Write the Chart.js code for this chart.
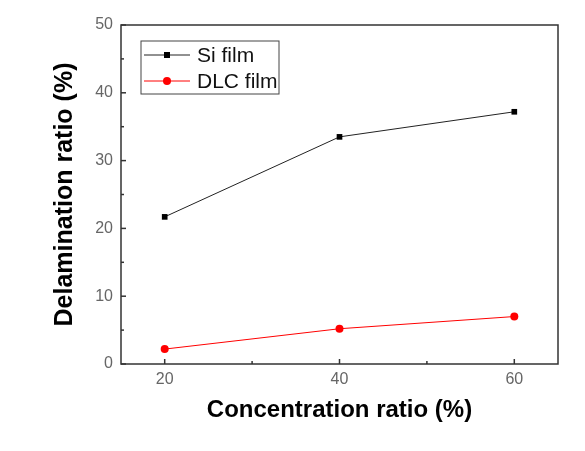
<!DOCTYPE html>
<html>
<head>
<meta charset="utf-8">
<script src="https://cdn.jsdelivr.net/npm/chart.js@4"></script>
<style>
  html, body { margin: 0; padding: 0; background: #fff; }
  #wrap { width: 585px; height: 451px; }
</style>
</head>
<body>
<div id="wrap"><canvas id="chart" width="585" height="451"></canvas></div>
<script>
// values
const concentration = [20, 40, 60];
const siFilm = [21.7, 33.5, 37.2];
const dlcFilm = [2.2, 5.2, 7.0];
const xTicks = [20, 40, 60];
const xMinorTicks = [30, 50];
const yTicks = [0, 10, 20, 30, 40, 50];
const yMinorTicks = [5, 15, 25, 35, 45];

const axisColor = '#333';
const fontFamily = 'Liberation Sans, Arial, sans-serif';
const tickFont = { family: fontFamily, size: 16 };

// frame + inward tick marks + boxed legend, like the origin-style plot
const framePlugin = {
  id: 'frame',
  afterDraw(chart) {
    const { ctx, chartArea: a, scales } = chart;
    ctx.save();
    ctx.strokeStyle = axisColor;
    ctx.lineWidth = 1.5;
    ctx.strokeRect(a.left, a.top, a.right - a.left, a.bottom - a.top);

    const tick = (x1, y1, x2, y2) => {
      ctx.beginPath(); ctx.moveTo(x1, y1); ctx.lineTo(x2, y2); ctx.stroke();
    };
    yTicks.forEach(v => { const y = scales.y.getPixelForValue(v); tick(a.left, y, a.left + 5, y); });
    yMinorTicks.forEach(v => { const y = scales.y.getPixelForValue(v); tick(a.left, y, a.left + 3, y); });
    xTicks.forEach(v => { const x = scales.x.getPixelForValue(v); tick(x, a.bottom, x, a.bottom - 5); });
    xMinorTicks.forEach(v => { const x = scales.x.getPixelForValue(v); tick(x, a.bottom, x, a.bottom - 3); });

    // legend box
    const bx = 141, by = 41, bw = 138, bh = 53;
    ctx.lineWidth = 1;
    ctx.strokeStyle = '#444';
    ctx.strokeRect(bx, by, bw, bh);
    ctx.font = '21px ' + fontFamily;
    ctx.textBaseline = 'middle';
    chart.data.datasets.forEach((ds, i) => {
      const y = 55 + i * 26;
      ctx.strokeStyle = ds.borderColor;
      ctx.lineWidth = 1;
      tick(144, y, 190, y);
      ctx.fillStyle = ds.pointBackgroundColor;
      if (ds.pointStyle === 'rect') {
        ctx.fillRect(167 - 3, y - 3, 6, 6);
      } else {
        ctx.beginPath(); ctx.arc(167, y, 4, 0, Math.PI * 2); ctx.fill();
      }
      ctx.fillStyle = '#111';
      ctx.fillText(ds.label, 197, y + 1);
    });
    ctx.restore();
  }
};

new Chart(document.getElementById('chart'), {
  type: 'line',
  data: {
    datasets: [
      {
        label: 'Si film',
        data: concentration.map((c, i) => ({ x: c, y: siFilm[i] })),
        borderColor: '#222',
        borderWidth: 1,
        pointStyle: 'rect',
        pointRadius: 4,
        pointBackgroundColor: '#000',
        pointBorderColor: '#000',
        pointBorderWidth: 0
      },
      {
        label: 'DLC film',
        data: concentration.map((c, i) => ({ x: c, y: dlcFilm[i] })),
        borderColor: '#ff0000',
        borderWidth: 1,
        pointStyle: 'circle',
        pointRadius: 4,
        pointBackgroundColor: '#ff0000',
        pointBorderColor: '#ff0000',
        pointBorderWidth: 0
      }
    ]
  },
  options: {
    responsive: false,
    animation: false,
    layout: { padding: { left: 0, top: 25, right: 27, bottom: 0 } },
    plugins: {
      legend: { display: false },
      tooltip: { enabled: false }
    },
    scales: {
      x: {
        type: 'linear',
        min: 15,
        max: 65,
        afterBuildTicks: s => { s.ticks = xTicks.map(v => ({ value: v })); },
        afterFit: s => { s.height = 87; },
        grid: { display: false, drawTicks: false, tickLength: 0 },
        border: { display: false },
        ticks: { color: '#666', font: tickFont, padding: 6 },
        title: {
          display: true,
          text: 'Concentration ratio (%)',
          color: '#000',
          font: { family: fontFamily, size: 24, weight: 'bold' },
          padding: { top: 0, bottom: 26 }
        }
      },
      y: {
        min: 0,
        max: 50,
        afterBuildTicks: s => { s.ticks = yTicks.map(v => ({ value: v })); },
        afterFit: s => { s.width = 121; },
        grid: { display: false, drawTicks: false, tickLength: 0 },
        border: { display: false },
        ticks: { color: '#666', font: tickFont, padding: 8 },
        title: {
          display: true,
          text: 'Delamination ratio (%)',
          color: '#000',
          font: { family: fontFamily, size: 25, weight: 'bold' },
          padding: { top: 50, bottom: 0 }
        }
      }
    }
  },
  plugins: [framePlugin]
});
</script>
</body>
</html>
